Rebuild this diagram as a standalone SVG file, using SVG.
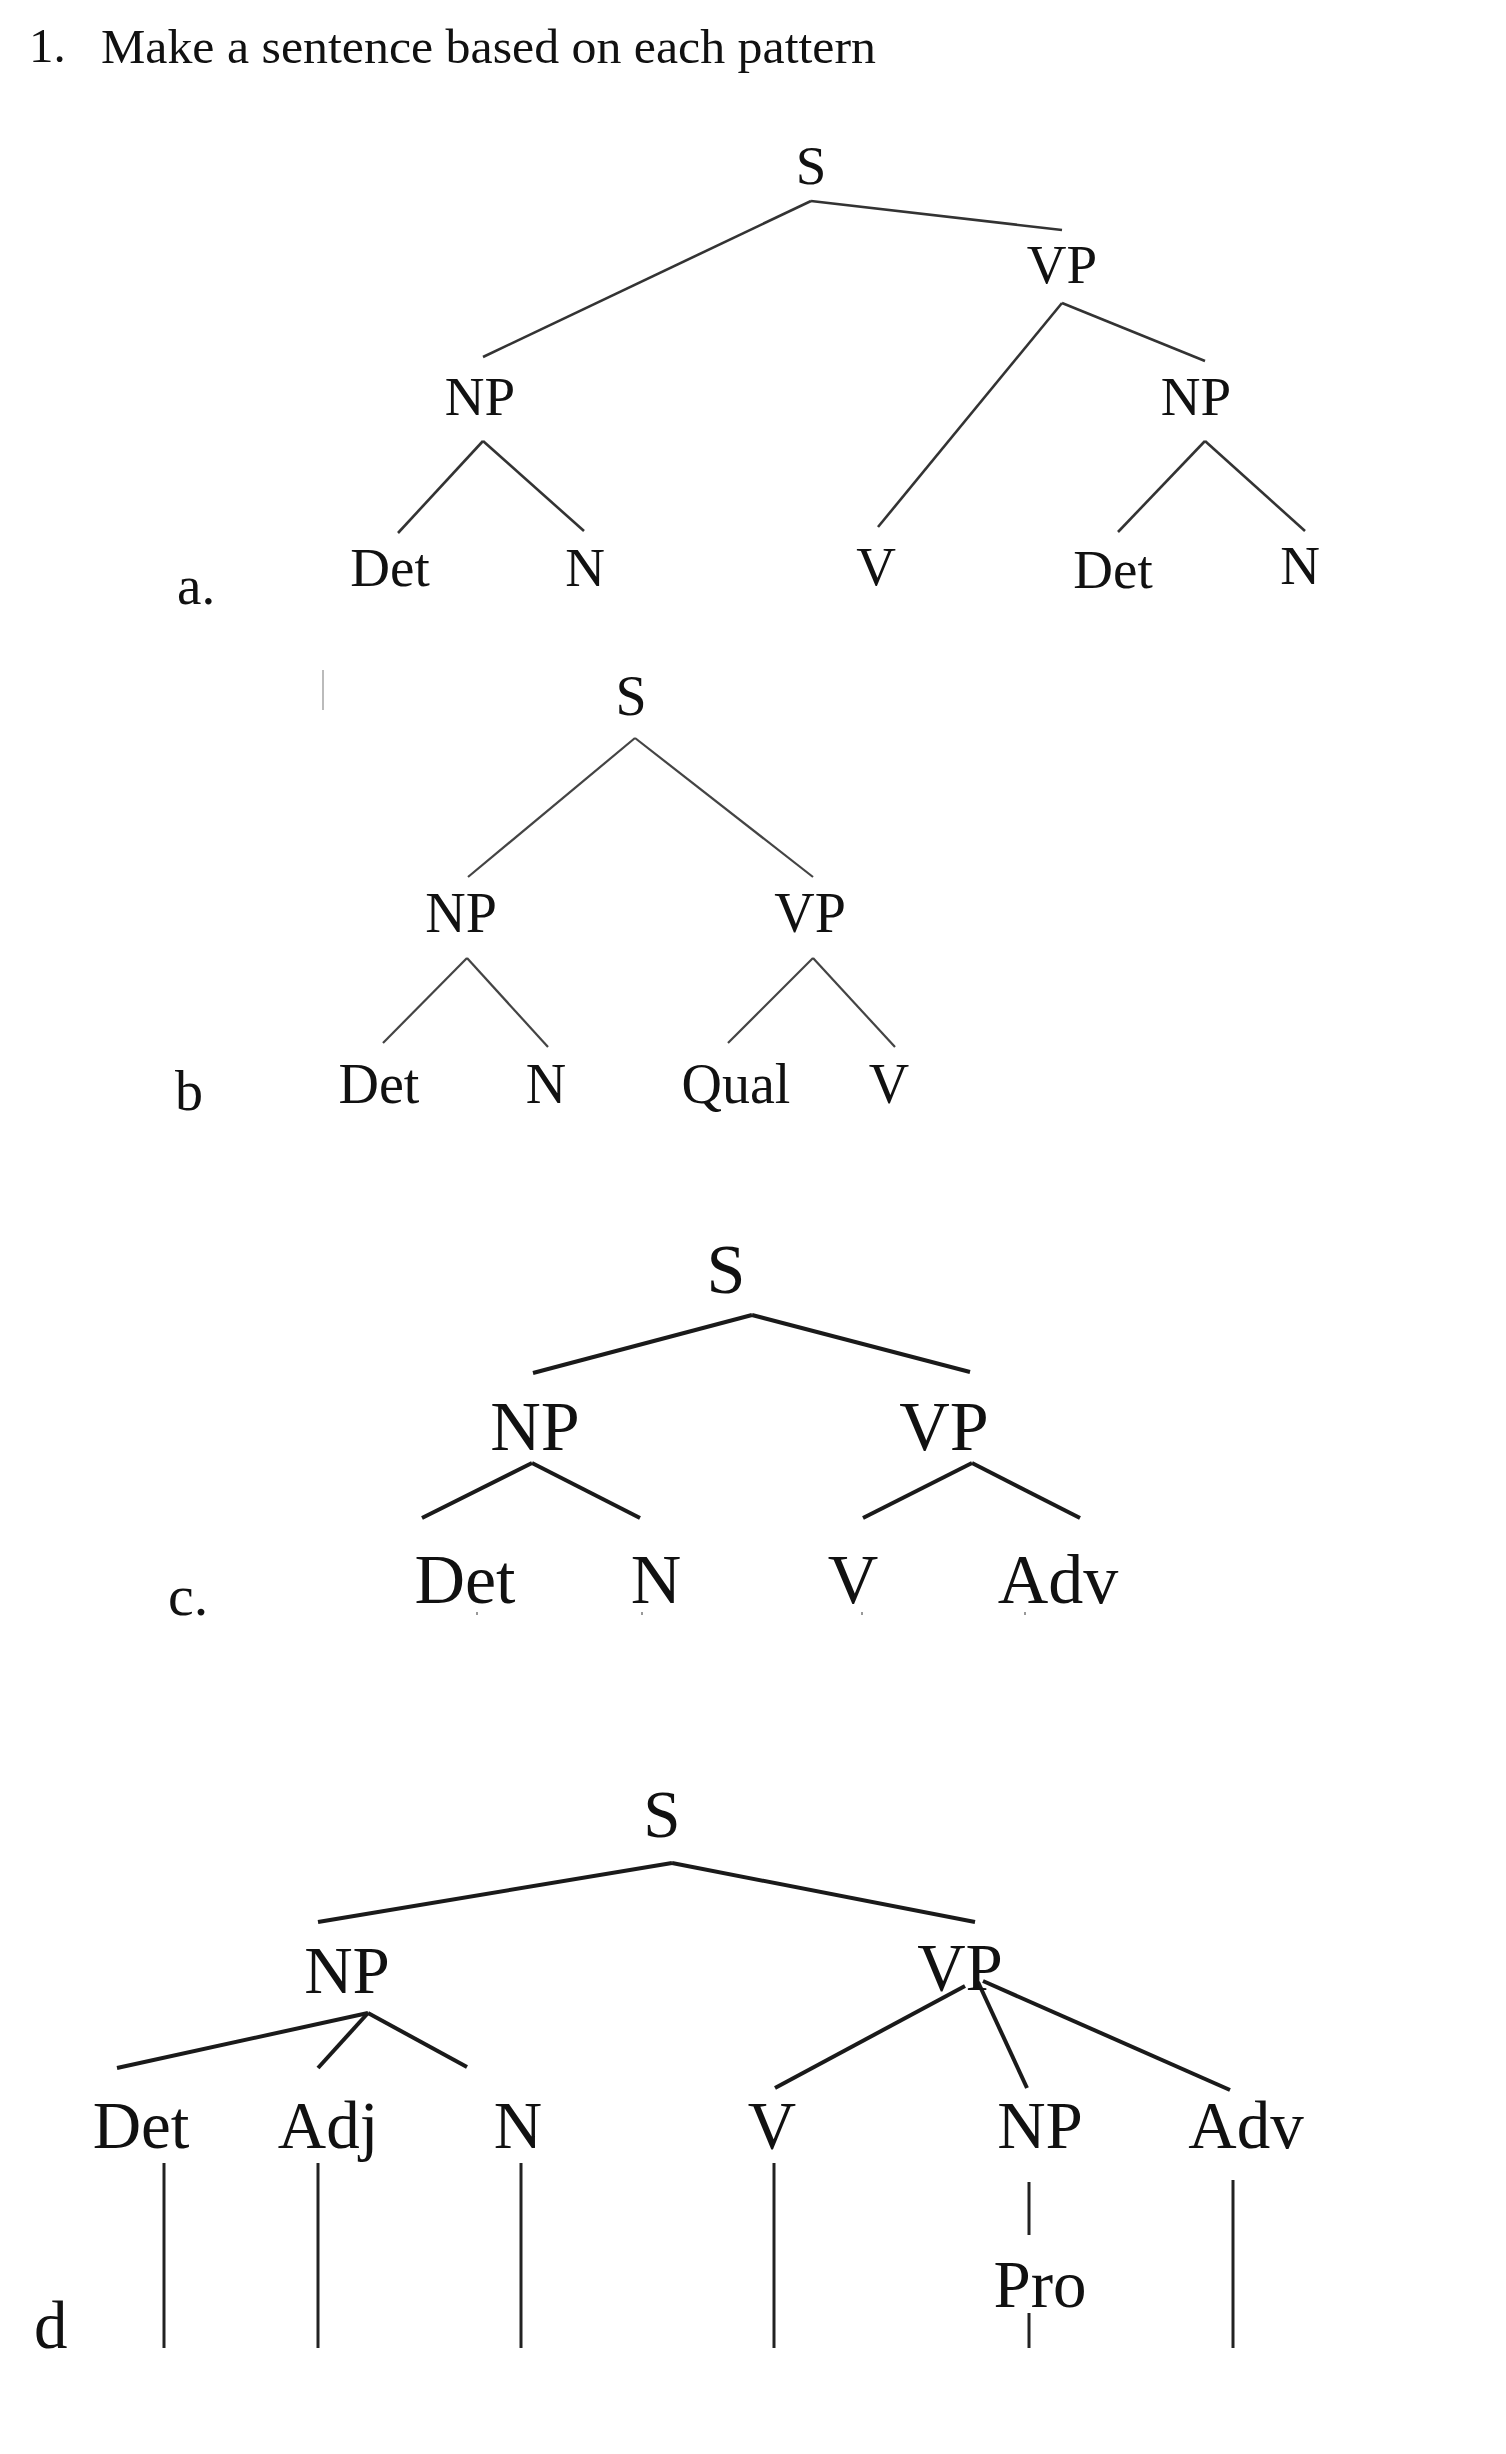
<svg xmlns="http://www.w3.org/2000/svg" width="1506" height="2454" viewBox="0 0 1506 2454">
<style>
  text { font-family: "Liberation Serif", "Times New Roman", serif; fill: #111; text-anchor: middle; }
  .title { text-anchor: start; font-size: 49px; }
  .a { font-size: 55px; }
  .b { font-size: 56px; }
  .c { font-size: 70px; }
  .d { font-size: 67px; }
  .lbl { text-anchor: start; }
  .small { font-size: 58px; }
  line { stroke-linecap: butt; fill: none; }
  .ea { stroke: #333; stroke-width: 2.6; }
  .eb { stroke: #444; stroke-width: 2.2; }
  .ec { stroke: #1a1a1a; stroke-width: 4; }
  .ed { stroke: #1a1a1a; stroke-width: 4; }
  .ev { stroke: #222; stroke-width: 3; }
  .faint { stroke: #bbb; stroke-width: 2; }
  .dot { stroke: #999; stroke-width: 2; }
</style>
<rect x="0" y="0" width="1506" height="2454" fill="#fff"/>

<g id="title">
  <text class="title" x="29" y="62">1.</text>
  <text class="title" x="101" y="63" textLength="775" lengthAdjust="spacingAndGlyphs">Make a sentence based on each pattern</text>
</g>

<g id="connectors">
  <!-- a -->
  <line class="ea" x1="811" y1="201" x2="483" y2="357"/>
  <line class="ea" x1="811" y1="201" x2="1062" y2="230"/>
  <line class="ea" x1="1062" y1="303" x2="1205" y2="361"/>
  <line class="ea" x1="1062" y1="303" x2="878" y2="527"/>
  <line class="ea" x1="483" y1="441" x2="398" y2="533"/>
  <line class="ea" x1="483" y1="441" x2="584" y2="531"/>
  <line class="ea" x1="1205" y1="441" x2="1118" y2="532"/>
  <line class="ea" x1="1205" y1="441" x2="1305" y2="531"/>
  <!-- b -->
  <line class="faint" x1="323" y1="670" x2="323" y2="710"/>
  <line class="eb" x1="635" y1="738" x2="468" y2="877"/>
  <line class="eb" x1="635" y1="738" x2="813" y2="877"/>
  <line class="eb" x1="467" y1="958" x2="383" y2="1043"/>
  <line class="eb" x1="467" y1="958" x2="548" y2="1047"/>
  <line class="eb" x1="813" y1="958" x2="728" y2="1043"/>
  <line class="eb" x1="813" y1="958" x2="895" y2="1047"/>
  <!-- c -->
  <line class="ec" x1="752" y1="1315" x2="533" y2="1373"/>
  <line class="ec" x1="752" y1="1315" x2="970" y2="1372"/>
  <line class="ec" x1="532" y1="1463" x2="422" y2="1518"/>
  <line class="ec" x1="532" y1="1463" x2="640" y2="1518"/>
  <line class="ec" x1="972" y1="1463" x2="863" y2="1518"/>
  <line class="ec" x1="972" y1="1463" x2="1080" y2="1518"/>
  <line class="dot" x1="477" y1="1612" x2="477" y2="1615"/>
  <line class="dot" x1="642" y1="1612" x2="642" y2="1615"/>
  <line class="dot" x1="862" y1="1612" x2="862" y2="1615"/>
  <line class="dot" x1="1025" y1="1612" x2="1025" y2="1615"/>
  <!-- d -->
  <line class="ed" x1="672" y1="1863" x2="318" y2="1922"/>
  <line class="ed" x1="672" y1="1863" x2="975" y2="1922"/>
  <line class="ed" x1="368" y1="2013" x2="117" y2="2068"/>
  <line class="ed" x1="368" y1="2013" x2="318" y2="2068"/>
  <line class="ed" x1="368" y1="2013" x2="467" y2="2067"/>
  <line class="ed" x1="965" y1="1986" x2="775" y2="2088"/>
  <line class="ed" x1="978" y1="1982" x2="1027" y2="2088"/>
  <line class="ed" x1="983" y1="1981" x2="1230" y2="2090"/>
  <line class="ev" x1="164" y1="2163" x2="164" y2="2348"/>
  <line class="ev" x1="318" y1="2163" x2="318" y2="2348"/>
  <line class="ev" x1="521" y1="2163" x2="521" y2="2348"/>
  <line class="ev" x1="774" y1="2163" x2="774" y2="2348"/>
  <line class="ev" x1="1029" y1="2182" x2="1029" y2="2235"/>
  <line class="ev" x1="1029" y1="2313" x2="1029" y2="2348"/>
  <line class="ev" x1="1233" y1="2180" x2="1233" y2="2348"/>
</g>

<!-- Tree a -->
<g id="a-label"><text class="a lbl" x="177" y="604">a.</text></g>
<g id="a-S"><text class="a" x="811" y="184">S</text></g>
<g id="a-NP1"><text class="a" x="480" y="415">NP</text></g>
<g id="a-VP"><text class="a" x="1062" y="283">VP</text></g>
<g id="a-NP2"><text class="a" x="1196" y="415">NP</text></g>
<g id="a-Det1"><text class="a" x="390" y="586">Det</text></g>
<g id="a-N1"><text class="a" x="585" y="586">N</text></g>
<g id="a-V"><text class="a" x="876" y="585">V</text></g>
<g id="a-Det2"><text class="a" x="1113" y="588">Det</text></g>
<g id="a-N2"><text class="a" x="1300" y="584">N</text></g>

<!-- Tree b -->
<g id="b-label"><text class="b lbl" x="175" y="1110">b</text></g>
<g id="b-S"><text class="b" x="631" y="715">S</text></g>
<g id="b-NP"><text class="b" x="461" y="932">NP</text></g>
<g id="b-VP"><text class="b" x="810" y="932">VP</text></g>
<g id="b-Det"><text class="b" x="379" y="1103">Det</text></g>
<g id="b-N"><text class="b" x="546" y="1103">N</text></g>
<g id="b-Qual"><text class="b" x="736" y="1103">Qual</text></g>
<g id="b-V"><text class="b" x="889" y="1103">V</text></g>

<!-- Tree c -->
<g id="c-label"><text class="small lbl" x="168" y="1615">c.</text></g>
<g id="c-S"><text class="c" x="726" y="1293">S</text></g>
<g id="c-NP"><text class="c" x="535" y="1450">NP</text></g>
<g id="c-VP"><text class="c" x="944" y="1450">VP</text></g>
<g id="c-Det"><text class="c" x="465" y="1603">Det</text></g>
<g id="c-N"><text class="c" x="656" y="1603">N</text></g>
<g id="c-V"><text class="c" x="853" y="1603">V</text></g>
<g id="c-Adv"><text class="c" x="1058" y="1603">Adv</text></g>

<!-- Tree d -->
<g id="d-label"><text class="d lbl" x="34" y="2348">d</text></g>
<g id="d-S"><text class="d" x="662" y="1837">S</text></g>
<g id="d-NP"><text class="d" x="347" y="1993">NP</text></g>
<g id="d-VP"><text class="d" x="960" y="1990">VP</text></g>
<g id="d-Det"><text class="d" x="141" y="2148">Det</text></g>
<g id="d-Adj"><text class="d" x="328" y="2148">Adj</text></g>
<g id="d-N"><text class="d" x="518" y="2148">N</text></g>
<g id="d-V"><text class="d" x="772" y="2148">V</text></g>
<g id="d-NP2"><text class="d" x="1040" y="2148">NP</text></g>
<g id="d-Adv"><text class="d" x="1246" y="2148">Adv</text></g>
<g id="d-Pro"><text class="d" x="1040" y="2307">Pro</text></g>
</svg>
